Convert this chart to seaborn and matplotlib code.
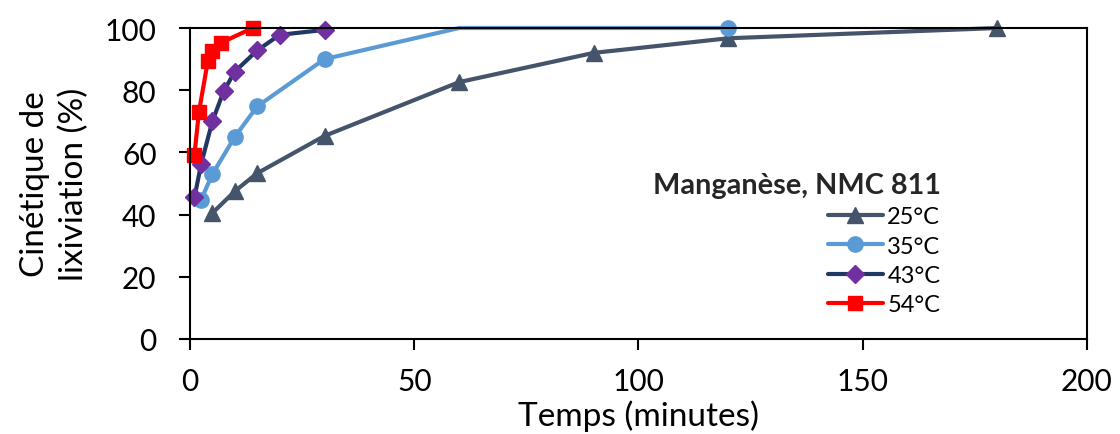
import matplotlib
matplotlib.use("Agg")
import matplotlib.pyplot as plt
import numpy as np
import pandas as pd
import seaborn as sns

# ---- data ----
t25 = [5, 10, 15, 30, 60, 90, 120, 180]
y25 = [40.5, 47.5, 53.3, 65.3, 82.6, 92.0, 96.7, 100.0]

t35 = [2.5, 5, 10, 15, 30, 60, 120]
y35 = [44.8, 53.0, 65.0, 74.8, 90.0, 100.0, 100.0]

t43 = [1, 2.5, 5, 7.5, 10, 15, 20, 30]
y43 = [45.5, 56.3, 70.0, 79.6, 86.0, 92.8, 97.8, 99.4]

t54 = [1, 2, 4, 5, 7, 14]
y54 = [59.2, 73.0, 89.5, 92.7, 95.3, 100.0]

labels = ["25°C", "35°C", "43°C", "54°C"]
xticks = [0, 50, 100, 150, 200]
yticks = [0, 20, 40, 60, 80, 100]
legend_title = "Manganèse, NMC 811"
xlabel = "Temps (minutes)"
ylabel = "Cinétique de\nlixiviation (%)"

sns.set_style("white")
plt.rcParams["font.family"] = ["Lato", "DejaVu Sans"]

fig, ax = plt.subplots(figsize=(11.2, 4.35), dpi=100)
fig.subplots_adjust(left=0.1696, right=0.9705, bottom=0.2184, top=0.9333)

styles = [
    (t25, y25, "#44546A", "#44546A", "^", 11),
    (t35, y35, "#5B9BD5", "#5B9BD5", "o", 11),
    (t43, y43, "#203864", "#7030A0", "D", 9),
    (t54, y54, "#FF0000", "#FF0000", "s", 10),
]

for lab, (t, y, lc, mc, mk, ms) in zip(labels, styles):
    df = pd.DataFrame({"t": t, "y": y})
    sns.lineplot(data=df, x="t", y="y", ax=ax, color=lc, marker=mk,
                 markersize=ms, markerfacecolor=mc, markeredgecolor=mc,
                 markeredgewidth=1, linewidth=3, label=lab, clip_on=False,
                 sort=False, estimator=None)

ax.set_xlim(0, 200)
ax.set_ylim(0, 100)
ax.set_xticks(xticks)
ax.set_yticks(yticks)
ax.tick_params(axis="both", which="major", direction="out", length=8,
               width=1.5, color="black", labelsize=21.5, labelcolor="black",
               bottom=True, left=True)
ax.tick_params(axis="y", pad=16)
ax.tick_params(axis="x", pad=12)

for sp in ax.spines.values():
    sp.set_visible(True)
    sp.set_color("black")
    sp.set_linewidth(1.5)

ax.set_xlabel(xlabel, fontsize=24, color="black")
ax.set_ylabel(ylabel, fontsize=24, color="black", linespacing=1.35)
ax.xaxis.set_label_coords(0.5, -0.195)
ax.yaxis.set_label_coords(-0.112, 0.5)

handles, labs = ax.get_legend_handles_labels()
leg = ax.legend(handles, labs, title=legend_title,
                title_fontproperties={"weight": "bold", "size": 20.8},
                fontsize=17, frameon=False, loc="upper right",
                bbox_to_anchor=(0.85, 0.575), alignment="right",
                handlelength=2.3, handletextpad=0.2, labelspacing=0.35,
                borderpad=0)
for txt in leg.get_texts():
    txt.set_color("black")

# the 35°C series shows no marker at 60 min
line35 = ax.get_lines()[1]
line35.set_markevery([0, 1, 2, 3, 4, 6])

fig.savefig("out.png", dpi=100)
